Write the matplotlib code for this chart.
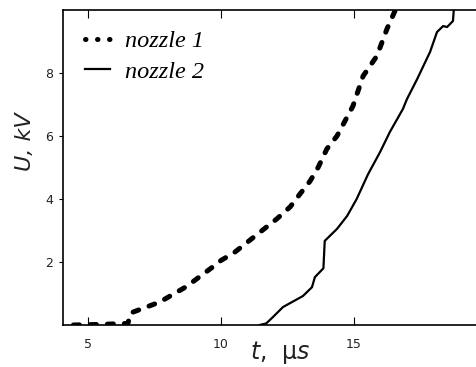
import matplotlib
matplotlib.use('Agg')
import matplotlib.pyplot as plt
from matplotlib.lines import Line2D

# nozzle 1 (thick dotted)
t1 = [4.45, 5.5, 6.5, 6.6, 7.7, 8.7, 9.7, 10.0, 10.5, 11.47, 12.1, 12.6, 12.97,
      13.35, 13.65, 13.98, 14.36, 14.96, 15.34, 15.86, 16.24, 16.54, 16.62]
u1 = [0.0, 0.02, 0.05, 0.38, 0.73, 1.22, 1.85, 2.05, 2.3, 2.95, 3.37, 3.75, 4.16,
      4.57, 5.0, 5.59, 6.0, 6.95, 7.9, 8.54, 9.4, 9.97, 10.1]

# nozzle 2 (solid)
t2 = [11.45, 11.7, 11.95, 12.33, 13.08, 13.42, 13.53, 13.85, 13.9, 14.36, 14.74, 15.1,
      15.53, 15.98, 16.35, 16.84, 16.99, 17.37, 17.86, 18.12, 18.35, 18.5, 18.72, 18.76]
u2 = [0.0, 0.05, 0.25, 0.57, 0.92, 1.2, 1.52, 1.8, 2.67, 3.05, 3.46, 4.0,
      4.79, 5.49, 6.13, 6.86, 7.17, 7.8, 8.67, 9.3, 9.49, 9.46, 9.65, 10.1]

xticks = [5, 10, 15]
yticks = [2, 4, 6, 8]

fig = plt.figure(figsize=(4.76, 3.67), dpi=100)
ax = fig.add_axes([63 / 476, 42 / 367, 424 / 476, 315 / 367])

ax.plot(t1, u1, color='black', lw=3.6, linestyle=(0, (1.2, 2.2)),
        dash_capstyle='round', solid_capstyle='round')
ax.plot(t2, u2, color='black', lw=1.6)

ax.set_xlim(4.06, 20)
ax.set_ylim(0, 10)
ax.set_xticks(xticks)
ax.set_yticks(yticks)
ax.tick_params(axis='x', direction='in', top=True, length=6, labelsize=9,
               labelcolor='#222222', pad=9)
ax.tick_params(axis='y', direction='out', length=3, labelsize=9,
               labelcolor='#222222', pad=4)
ax.spines['right'].set_visible(False)
for s in ['left', 'bottom', 'top']:
    ax.spines[s].set_linewidth(1.2)

ax.set_ylabel('U, kV', fontsize=16, style='italic', color='#222222', va='center')
ax.yaxis.set_label_coords(-(63 - 25) / 424, (325 - 142) / 315)
plt.rcParams['mathtext.fontset'] = 'dejavusans'
ax.set_xlabel(r'$t$,  $\mathrm{µ}s$', fontsize=17, color='#222222', va='center')
ax.xaxis.set_label_coords((280 - 63) / 424, -(352 - 325) / 315)

handles = [Line2D([], [], color='black', lw=3.6, linestyle=(0, (0.1, 2.3)),
                  dash_capstyle='round'),
           Line2D([], [], color='black', lw=1.6)]
leg = ax.legend(handles, ['nozzle 1', 'nozzle 2'], loc='upper left',
                bbox_to_anchor=(0.0, 1.005), frameon=False, handlelength=1.05,
                handletextpad=0.6, labelspacing=0.35,
                prop={'family': 'Liberation Serif', 'style': 'italic', 'size': 17.5})

fig.savefig('out.png', dpi=100)
